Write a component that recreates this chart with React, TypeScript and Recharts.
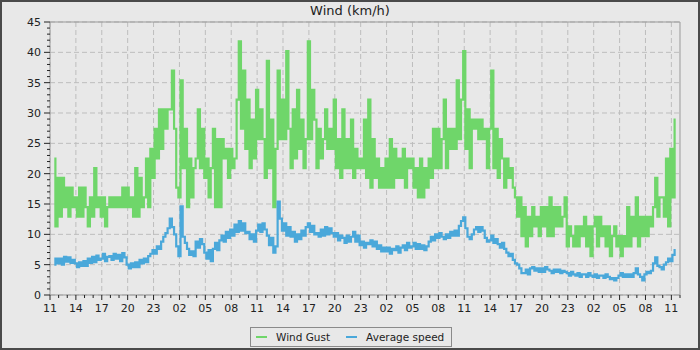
import { LineChart, Line, XAxis, YAxis, CartesianGrid, ReferenceLine } from 'recharts';

// 15-minute samples starting 11:30 on day 1 (t in hours after 11:00)
const gust: number[] = [
  22.5, 11.3,
  19.3, 12.9, 19.3, 14.5,
  17.7, 12.9, 17.7, 14.5,
  16.1, 12.9, 17.7, 12.9,
  17.7, 14.5, 11.3, 16.1,
  12.9, 20.9, 14.5, 16.1,
  12.9, 16.1, 11.3, 14.5,
  16.1, 14.5, 16.1, 14.5,
  16.1, 14.5, 17.7, 14.5,
  17.7, 14.5, 16.1, 12.9,
  20.9, 12.9, 19.3, 14.5,
  16.1, 22.5, 14.5, 24.1,
  19.3, 27.4, 22.5, 30.6,
  24.1, 30.6, 27.4, 30.6,
  30.6, 37.0, 27.4, 17.7,
  16.1, 35.4, 20.9, 27.4,
  14.5, 22.5, 16.1, 20.9,
  22.5, 30.6, 20.9, 27.4,
  19.3, 22.5, 16.1, 20.9,
  27.4, 14.5, 25.7, 14.5,
  25.7, 22.5, 24.1, 19.3,
  24.1, 20.9, 22.5, 32.2,
  41.8, 27.4, 37.0, 24.1,
  32.2, 20.9, 28.9, 22.5,
  33.8, 25.7, 30.6, 25.7,
  19.3, 38.6, 20.9, 28.9,
  14.5, 24.1, 37.0, 25.7,
  32.2, 25.7, 40.2, 27.4,
  20.9, 30.6, 22.5, 33.8,
  24.1, 28.9, 20.9, 25.7,
  41.8, 25.7, 33.8, 28.9,
  20.9, 27.4, 22.5, 25.7,
  30.6, 24.1, 27.4, 24.1,
  32.2, 20.9, 25.7, 19.3,
  30.6, 20.9, 25.7, 20.9,
  28.9, 19.3, 24.1, 20.9,
  22.5, 20.9, 28.9, 19.3,
  32.2, 17.7, 25.7, 19.3,
  22.5, 17.7, 20.9, 17.7,
  22.5, 17.7, 25.7, 17.7,
  24.1, 19.3, 22.5, 19.3,
  24.1, 17.7, 22.5, 20.9,
  22.5, 17.7, 20.9, 16.1,
  22.5, 16.1, 20.9, 17.7,
  22.5, 19.3, 27.4, 20.9,
  27.4, 20.9, 25.7, 32.2,
  20.9, 27.4, 24.1, 27.4,
  24.1, 35.4, 25.7, 32.2,
  40.2, 24.1, 30.6, 20.9,
  28.9, 27.4, 28.9, 25.7,
  28.9, 25.7, 27.4, 20.9,
  27.4, 37.0, 20.9, 27.4,
  19.3, 25.7, 22.5, 17.7,
  22.5, 19.3, 20.9, 17.7,
  16.1, 12.9, 16.1, 9.7,
  14.5, 8.0, 12.9, 9.7,
  14.5, 11.3, 12.9, 9.7,
  14.5, 11.3, 14.5, 9.7,
  16.1, 9.7, 14.5, 11.3,
  14.5, 11.3, 12.9, 16.1,
  8.0, 11.3, 9.7, 8.0,
  11.3, 8.0, 11.3, 9.7,
  12.9, 8.0, 11.3, 6.4,
  11.3, 12.9, 8.0, 12.9,
  9.7, 11.3, 8.0, 11.3,
  6.4, 9.7, 11.3, 8.0,
  9.7, 6.4, 9.7, 8.0,
  14.5, 8.0, 12.9, 9.7,
  16.1, 8.0, 12.9, 9.7,
  12.9, 9.7, 12.9, 11.3,
  14.5, 19.3, 12.9, 16.1,
  16.1, 12.9, 22.5, 11.3,
  24.1, 16.1, 28.9,
];

const avgSpeed: number[] = [
  5.0, 6.0,
  5.2, 6.0, 5.0, 6.3,
  5.5, 6.2, 5.3, 5.8,
  5.2, 4.6, 5.4, 4.8,
  5.6, 4.8, 6.0, 5.3,
  6.3, 5.4, 6.5, 5.8,
  6.0, 6.8, 5.6, 6.3,
  6.4, 5.8, 6.8, 6.0,
  6.6, 5.6, 6.9, 6.2,
  5.0, 4.4, 5.2, 4.6,
  5.4, 4.6, 5.8, 5.2,
  6.0, 5.4, 6.4, 6.8,
  7.4, 6.8, 8.0, 7.6,
  8.8, 9.6, 10.2, 11.0,
  12.6, 11.2, 10.0, 8.0,
  6.4, 14.6, 9.6, 8.6,
  7.6, 6.6, 7.2, 6.4,
  8.8, 7.8, 9.2, 8.4,
  7.0, 6.0, 7.4, 5.6,
  7.6, 8.6, 7.4, 9.0,
  9.8, 8.8, 10.4, 9.4,
  10.8, 9.8, 11.6, 10.4,
  12.2, 10.6, 11.8, 10.2,
  10.4, 9.2, 10.0, 8.8,
  10.6, 11.6, 10.4, 11.8,
  10.8, 9.8, 8.2, 9.4,
  7.0, 8.0, 15.4, 12.6,
  10.6, 11.8, 9.8, 11.2,
  9.6, 10.4, 8.8, 10.0,
  9.2, 10.6, 9.8, 11.2,
  11.8, 10.4, 11.4, 10.0,
  10.2, 9.6, 10.8, 9.8,
  11.2, 10.0, 11.0, 10.2,
  9.6, 10.2, 9.0, 9.8,
  9.4, 8.6, 9.8, 8.8,
  9.6, 10.4, 8.8, 9.8,
  8.2, 8.8, 7.8, 8.6,
  8.4, 9.0, 8.0, 8.8,
  7.6, 8.2, 7.2, 7.8,
  7.2, 7.8, 6.8, 7.6,
  7.4, 8.0, 7.0, 7.8,
  8.2, 7.4, 8.6, 7.8,
  8.0, 8.6, 7.6, 8.4,
  7.6, 8.2, 7.4, 8.0,
  8.8, 9.6, 9.0, 10.0,
  9.4, 10.2, 9.6, 9.2,
  10.0, 9.4, 10.4, 9.8,
  10.6, 9.8, 11.4, 12.2,
  12.8, 11.0, 9.6, 9.2,
  10.0, 10.8, 11.2, 10.4,
  11.2, 10.6, 9.4, 8.8,
  9.0, 9.8, 8.6, 9.2,
  8.4, 7.8, 8.6, 7.6,
  7.0, 6.4, 6.8, 5.8,
  5.2, 5.0, 4.4, 3.6,
  3.6, 4.2, 3.4, 4.4,
  4.6, 4.0, 4.4, 3.8,
  4.4, 3.8, 4.6, 4.2,
  4.0, 3.6, 4.2, 3.8,
  4.2, 3.6, 4.0, 3.8,
  3.6, 3.2, 3.8, 3.4,
  3.2, 3.6, 3.0, 3.4,
  3.4, 3.0, 3.6, 3.2,
  3.0, 3.4, 2.8, 3.2,
  3.2, 2.8, 3.4, 3.0,
  2.6, 2.8, 2.4, 2.8,
  3.2, 3.6, 3.0, 3.4,
  3.0, 3.4, 3.0, 3.6,
  4.4, 3.4, 3.0, 2.4,
  3.4, 3.8, 3.6, 4.0,
  5.2, 6.2, 4.8, 4.6,
  4.2, 5.0, 5.4, 6.0,
  5.6, 6.6, 7.4,
];

const xTickLabels = [
  '11', '14', '17', '20', '23', '02', '05', '08',
  '11', '14', '17', '20', '23', '02', '05', '08',
  '11', '14', '17', '20', '23', '02', '05', '08', '11',
];
const yTickLabels = [0, 5, 10, 15, 20, 25, 30, 35, 40, 45];

const data = gust.map((g, i) => ({ t: 0.5 + i * 0.25, gust: g, avg: avgSpeed[i] }));

const hourTicks = Array.from({ length: 74 }, (_, i) => i);
const unitTicks = Array.from({ length: 46 }, (_, i) => i);
const majorHours = xTickLabels.map((_, i) => i * 3);

const FONT = '"DejaVu Sans", sans-serif';
const GUST = '#6fd66a';
const AVG = '#4aa8da';

const XTick = ({ x, y, payload }: any) => {
  const major = payload.value % 3 === 0;
  return (
    <g>
      <line x1={x} x2={x} y1={y} y2={y + (major ? 5 : 3)} stroke="#222" />
      {major && (
        <text x={x} y={y + 17} textAnchor="middle" fontSize={11} fontFamily={FONT} fill="#222">
          {xTickLabels[payload.value / 3]}
        </text>
      )}
    </g>
  );
};

const YTick = ({ x, y, payload }: any) => {
  const major = payload.value % 5 === 0;
  return (
    <g>
      <line x1={x - (major ? 6 : 3)} x2={x} y1={y} y2={y} stroke="#222" />
      {major && (
        <text x={x - 9} y={y + 4} textAnchor="end" fontSize={11} fontFamily={FONT} fill="#222">
          {payload.value}
        </text>
      )}
    </g>
  );
};

export default function App() {
  return (
    <div style={{ position: 'absolute', left: 0, top: 0, width: 700, height: 350, background: '#e8e8e8', fontFamily: FONT }}>
      <div style={{ position: 'absolute', left: 0, top: 3, width: 700, textAlign: 'center', fontSize: 13, color: '#222' }}>
        Wind (km/h)
      </div>
      <LineChart width={700} height={350} data={data} margin={{ top: 22, right: 20, bottom: 25, left: 0 }}>
        <CartesianGrid
          stroke="#bdbdbd"
          strokeDasharray="5 3"
          horizontalValues={yTickLabels}
          verticalValues={majorHours}
        />
        <XAxis
          type="number"
          dataKey="t"
          domain={[0, 73]}
          ticks={hourTicks}
          interval={0}
          tickSize={0}
          tickMargin={0}
          tick={<XTick />}
          axisLine={{ stroke: '#999' }}
          height={30}
        />
        <YAxis
          type="number"
          domain={[0, 45]}
          ticks={unitTicks}
          interval={0}
          tickSize={0}
          tickMargin={0}
          tick={<YTick />}
          axisLine={{ stroke: '#999' }}
          width={50}
        />
        <ReferenceLine y={45} stroke="#999" />
        <ReferenceLine x={73} stroke="#999" />
        <Line type="step" dataKey="gust" stroke={GUST} strokeWidth={2.2} dot={false} isAnimationActive={false} />
        <Line type="step" dataKey="avg" stroke={AVG} strokeWidth={2.2} dot={false} isAnimationActive={false} />
      </LineChart>
      <div
        style={{
          position: 'absolute', left: 250, top: 327, width: 202, height: 20, boxSizing: 'border-box',
          border: '1px solid #8a8a8a', display: 'flex', alignItems: 'center', fontSize: 10.5, color: '#222',
        }}
      >
        <span style={{ width: 11, height: 2, background: GUST, marginLeft: 5, marginRight: 9 }} />
        <span>Wind Gust</span>
        <span style={{ width: 11, height: 2, background: AVG, marginLeft: 16, marginRight: 9 }} />
        <span>Average speed</span>
      </div>
      <div style={{ position: 'absolute', inset: 0, border: '2px solid #4a4a4a', pointerEvents: 'none' }} />
    </div>
  );
}
